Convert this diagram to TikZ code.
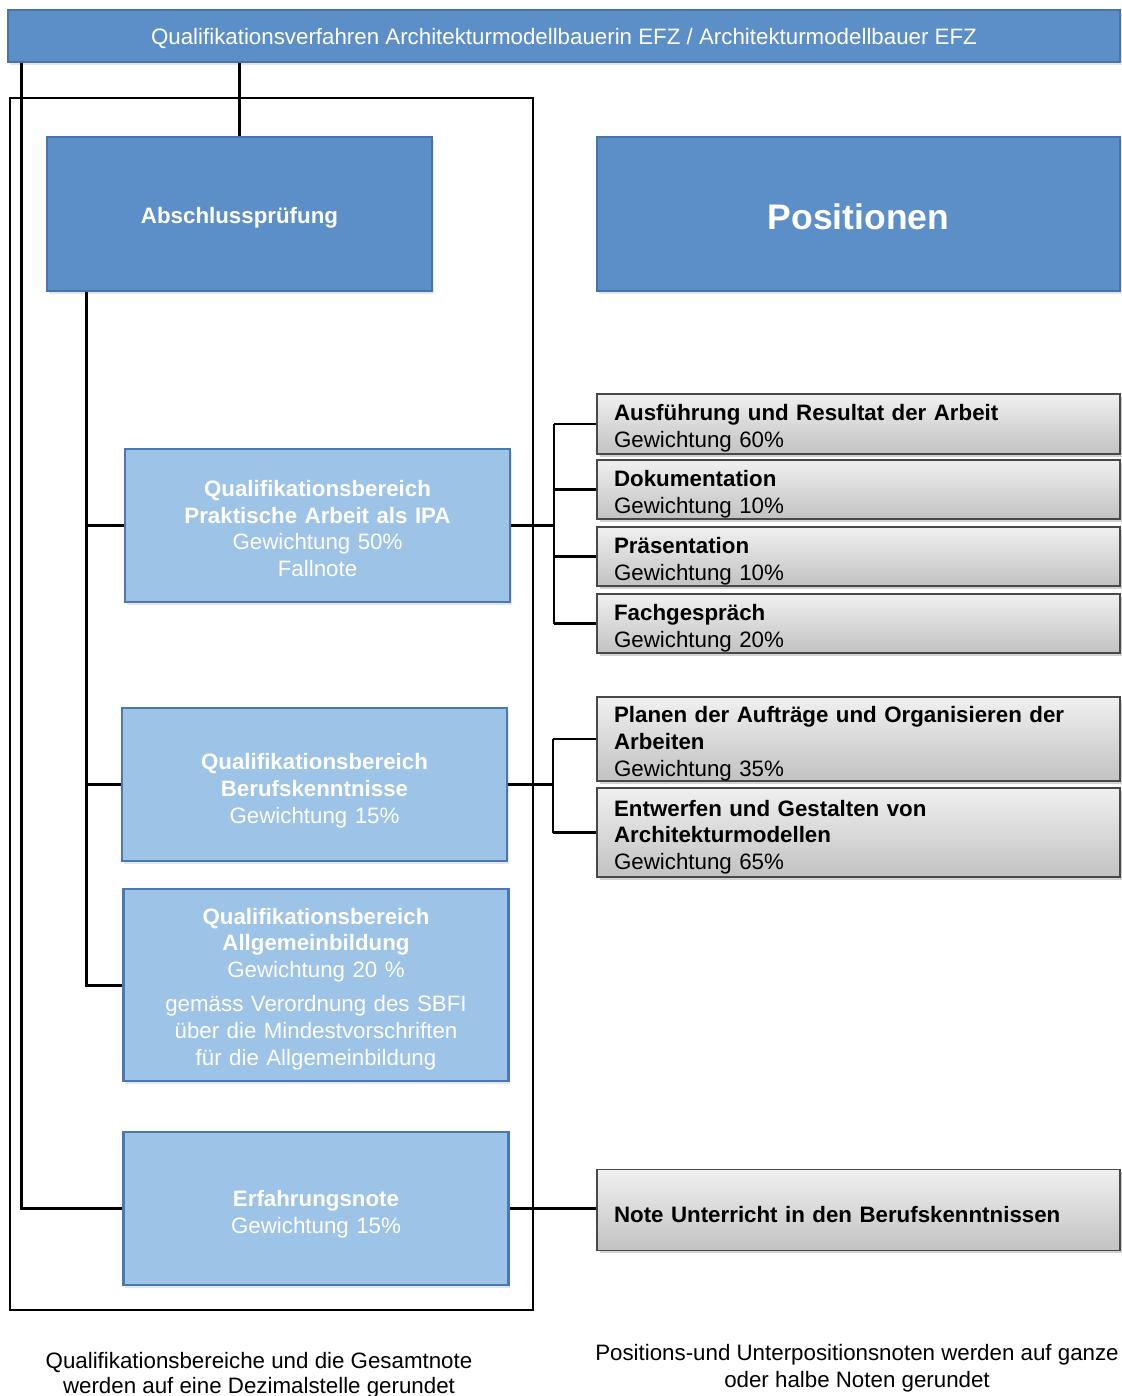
\documentclass[tikz,border=0pt]{standalone}
\usepackage{fontspec}
\setmainfont{Liberation Sans}
\usepackage{tikz}
\usetikzlibrary{positioning,shadows}
\definecolor{darkblue}{RGB}{92,143,199}
\definecolor{darkblueline}{RGB}{70,116,172}
\definecolor{lightblue}{RGB}{157,195,230}
\definecolor{lightblueline}{RGB}{74,120,176}
\definecolor{graytop}{RGB}{240,240,240}
\definecolor{graybottom}{RGB}{194,194,194}
\definecolor{grayline}{RGB}{72,72,72}
\newcommand{\boxfont}{\fontsize{12.7}{15.3}\selectfont}

\begin{document}
\begin{tikzpicture}[x=0.02cm,y=-0.02cm,font=\boxfont,semithick]
  \tikzstyle{headbox}=[rectangle,draw=darkblueline,fill=darkblue,text=white,line width=1pt,text depth=0pt,
                       drop shadow={opacity=0.2,shadow xshift=1pt,shadow yshift=-1.5pt}]
  \tikzstyle{areabox}=[rectangle,draw=lightblueline,fill=lightblue,text=white,line width=1.3pt,
                       align=center,text width=7.4cm,inner xsep=0.15cm,text height=12.7pt,
                       minimum width=7.7cm,minimum height=3.06cm,
                       drop shadow={opacity=0.2,shadow xshift=1pt,shadow yshift=-1.5pt}]
  \tikzstyle{posbox}=[rectangle,draw=grayline,top color=graytop,bottom color=graybottom,line width=1pt,
                      align=left,text width=9.78cm,inner xsep=0.34cm,inner ysep=0pt,text height=14.5pt,
                      minimum height=1.18cm,
                      drop shadow={opacity=0.35,shadow xshift=1.5pt,shadow yshift=-1.5pt}]
  \tikzstyle{conn}=[draw=black,line width=1.7pt]
  \tikzstyle{subconn}=[draw=black,line width=1.2pt]

  \useasboundingbox[fill=white] (0,0) rectangle (1122,1396);

  \node[draw,line width=0.9pt,minimum width=10.46cm,minimum height=24.24cm] (grp) at (271.5,704) {};

  \node[headbox,text height=10.2pt,minimum width=22.24cm,minimum height=1.04cm] (title) at (564,36)
       {Qualifikationsverfahren Architekturmodellbauerin EFZ / Architekturmodellbauer EFZ};
  \node[headbox,font=\boxfont\bfseries,text height=11.3pt,minimum width=7.7cm,minimum height=3.08cm] (exam) at (239.5,214)
       {Abschlussprüfung};
  \node[headbox,font=\fontsize{20.2}{24}\selectfont\bfseries,text height=18pt,minimum width=10.46cm,minimum height=3.08cm] (pos) at (858.5,214)
       {Positionen};

  \node[areabox] (ipa) at (317.5,525.5)
       {\textbf{Qualifikationsbereich}\\\textbf{Praktische Arbeit als IPA}\\Gewichtung 50\%\\Fallnote};
  \node[areabox,text height=16.1pt] (bk) at (314.5,784.5)
       {\textbf{Qualifikationsbereich}\\\textbf{Berufskenntnisse}\\Gewichtung 15\%};
  \node[areabox,minimum height=3.84cm,text height=13.8pt] (abu) at (316,985)
       {\textbf{Qualifikationsbereich}\\\textbf{Allgemeinbildung}\\Gewichtung 20 \%\\[4pt]gemäss Verordnung des SBFI\\über die Mindestvorschriften\\für die Allgemeinbildung};
  \node[areabox,text height=16.1pt] (erf) at (316,1208.5)
       {\textbf{Erfahrungsnote}\\Gewichtung 15\%};

  \node[posbox,minimum height=1.2cm] (ausf) at (858.5,424)
       {\textbf{Ausführung und Resultat der Arbeit}\\Gewichtung 60\%};
  \node[posbox] (doku) at (858.5,489.5) {\textbf{Dokumentation}\\Gewichtung 10\%};
  \node[posbox] (praes) at (858.5,556.5) {\textbf{Präsentation}\\Gewichtung 10\%};
  \node[posbox] (fach) at (858.5,623.5) {\textbf{Fachgespräch}\\Gewichtung 20\%};
  \node[posbox,minimum height=1.64cm] (plan) at (858.5,739)
       {\textbf{Planen der Aufträge und Organisieren der}\\\textbf{Arbeiten}\\Gewichtung 35\%};
  \node[posbox,minimum height=1.78cm] (entw) at (858.5,832.5)
       {\textbf{Entwerfen und Gestalten von}\\\textbf{Architekturmodellen}\\Gewichtung 65\%};
  \node[posbox,minimum height=1.62cm] (note) at (858.5,1210)
       {\textbf{Note Unterricht in den Berufskenntnissen}};

  \node[align=center,font=\fontsize{12.7}{14.2}\selectfont] (roundleft) at (259,1375)
       {Qualifikationsbereiche und die Gesamtnote\\werden auf eine Dezimalstelle gerundet};
  \node[align=center,font=\fontsize{12.7}{15.3}\selectfont] (roundright) at (857,1368)
       {Positions-und Unterpositionsnoten werden auf ganze\\oder halbe Noten gerundet};

  \draw[conn] (title.south -| exam.north) -- (exam.north);
  \draw[conn] ([xshift=0.28cm]title.south west) |- (erf.west);

  \coordinate (spine) at ([xshift=0.8cm]exam.south west);
  \draw[conn] (spine) |- (abu.west);
  \draw[conn] (spine |- ipa.west) -- (ipa.west);
  \draw[conn] (spine |- bk.west) -- (bk.west);

  \coordinate (ipafork) at ([xshift=0.86cm]ipa.east);
  \draw[subconn] (ipa.east) -- (ipafork);
  \draw[subconn] (ipafork |- ausf.west) -- (ipafork |- fach.west);
  \foreach \p in {ausf,doku,praes,fach}
    \draw[subconn] (ipafork |- \p.west) -- (\p.west);

  \coordinate (bkfork) at ([xshift=0.9cm]bk.east);
  \draw[subconn] (bk.east) -- (bkfork);
  \draw[subconn] (bkfork |- plan.west) -- (bkfork |- entw.west);
  \foreach \p in {plan,entw}
    \draw[subconn] (bkfork |- \p.west) -- (\p.west);

  \draw[conn,line width=2.2pt] (erf.east) -- (erf.east -| note.west);
\end{tikzpicture}
\end{document}
